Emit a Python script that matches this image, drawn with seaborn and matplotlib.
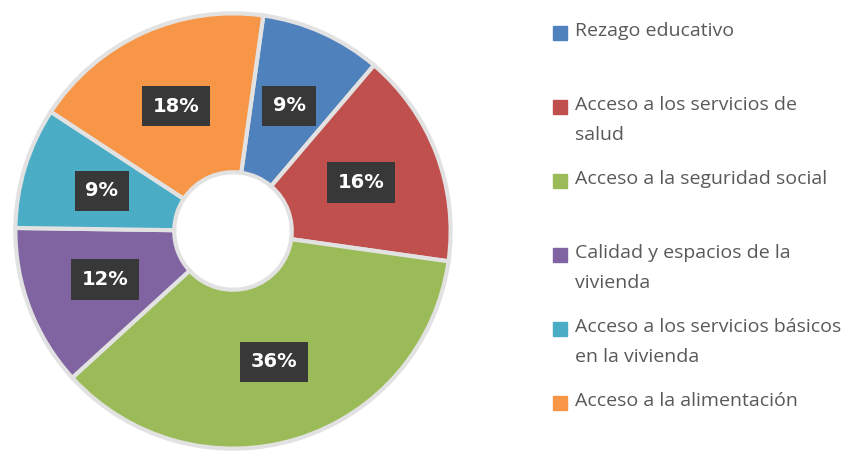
import matplotlib
matplotlib.use("Agg")
import seaborn as sns
from matplotlib import pyplot as plt
from matplotlib.patches import Rectangle

categories = ["Rezago educativo",
              "Acceso a los servicios de\nsalud",
              "Acceso a la seguridad social",
              "Calidad y espacios de la\nvivienda",
              "Acceso a los servicios básicos\nen la vivienda",
              "Acceso a la alimentación"]
shares = [9, 16, 36, 12, 9, 18]
colors = ["#4F81BD", "#C0504D", "#9BBB59", "#8064A2", "#4BACC6", "#F79646"]

sns.set_theme(style="white")
plt.rcParams["font.family"] = ["Open Sans", "DejaVu Sans"]
palette = sns.color_palette(colors)

fig = plt.figure(figsize=(8.61, 4.53), dpi=100)
ax = fig.add_axes([11 / 861, 0.0, 444 / 861, 444 / 453])

wedges, _, autotexts = ax.pie(
    shares, colors=palette, startangle=82, counterclock=False,
    autopct="%d%%", pctdistance=0.63,
    wedgeprops=dict(width=0.73, edgecolor="#e2e2e2", linewidth=3))
for t in autotexts:
    t.set(color="white", fontsize=14, fontweight="bold", family=["DejaVu Sans"])
    t.set_bbox(dict(boxstyle="square,pad=0.55", fc="#383838", ec="none"))
ax.set_xlim(-1.02, 1.02)
ax.set_ylim(-1.02, 1.02)
ax.set_aspect("equal")

# legend drawn by hand so the square sits on the first line
y0 = 33
for i, (lab, c) in enumerate(zip(categories, palette)):
    y = y0 + i * 74
    fig.add_artist(Rectangle((553 / 861, 1 - (y + 7) / 453), 14 / 861, 14 / 453,
                             transform=fig.transFigure, color=c))
    fig.text(575 / 861, 1 - (y - 11) / 453, lab, fontsize=14, color="#595959",
             va="top", ha="left", linespacing=1.85)

plt.savefig("out.png", dpi=100)
